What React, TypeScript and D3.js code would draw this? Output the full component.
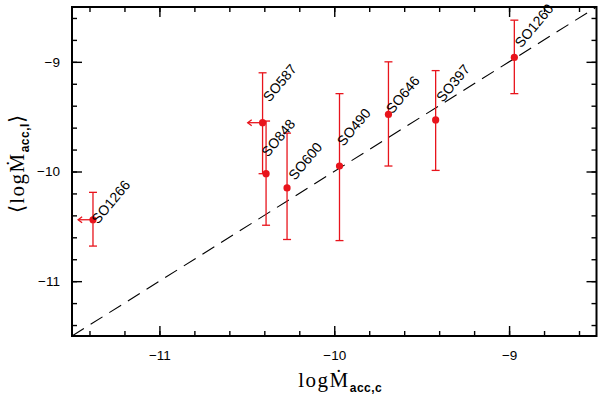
import React, { useEffect, useRef } from "react";
import * as d3 from "d3";

// source names and accretion rates (log Msun/yr)
const names = ["SO1266", "SO587", "SO848", "SO600", "SO490", "SO646", "SO397", "SO1260"];
const logMc = [-11.38, -10.41, -10.39, -10.27, -9.97, -9.69, -9.42, -8.97];
const logMl = [-10.44, -9.555, -10.02, -10.15, -9.95, -9.48, -9.53, -8.96];
const errTop = [-10.19, -9.1, -9.54, -9.65, -9.29, -9.0, -9.08, -8.62];
const errBottom = [-10.68, -10.02, -10.49, -10.62, -10.63, -9.95, -9.99, -9.29];
const upperLimit = [true, true, false, false, false, false, false, false];
const majorTicks = [-11, -10, -9];

const App = () => {
  const svgRef = useRef<SVGSVGElement>(null);

  useEffect(() => {
    const W = 600;
    const H = 395;
    const margin = { top: 7, right: 3.5, bottom: 59, left: 72 };
    const width = W - margin.left - margin.right;
    const height = H - margin.top - margin.bottom;

    const root = d3.select(svgRef.current);
    root.selectAll("*").remove();
    const svg = root.append("g").attr("transform", `translate(${margin.left},${margin.top})`);

    const x = d3.scaleLinear().domain([-11.5, -8.5]).range([0, width]);
    const y = d3.scaleLinear().domain([-11.5, -8.5]).range([height, 0]);
    const minor = d3.range(-11.4, -8.5, 0.2).map((v) => +v.toFixed(1));

    // ticks on all four sides, pointing inwards
    const tickFont = "'Liberation Sans', Arial, sans-serif";
    const addAxis = (axis: any, tf: string, labels: boolean) => {
      const g = svg.append("g").attr("transform", tf).call(axis);
      g.select(".domain").remove();
      g.selectAll("line").attr("stroke", "#000").attr("stroke-width", 1.4);
      g.selectAll("text").style("font-family", tickFont).style("font-size", "13.5px").attr("fill", "#000");
      if (!labels) g.selectAll("text").remove();
      return g;
    };
    addAxis(d3.axisBottom(x).tickValues(minor).tickSize(-5).tickFormat(() => ""), `translate(0,${height})`, false);
    addAxis(d3.axisBottom(x).tickValues(majorTicks).tickSize(-10).tickPadding(14).tickFormat(d3.format("d")), `translate(0,${height})`, true);
    addAxis(d3.axisTop(x).tickValues(minor).tickSize(-5), "translate(0,0)", false);
    addAxis(d3.axisTop(x).tickValues(majorTicks).tickSize(-10), "translate(0,0)", false);
    addAxis(d3.axisLeft(y).tickValues(minor).tickSize(-5).tickFormat(() => ""), "translate(0,0)", false);
    addAxis(d3.axisLeft(y).tickValues(majorTicks).tickSize(-10).tickPadding(12).tickFormat(d3.format("d")), "translate(0,0)", true);
    addAxis(d3.axisRight(y).tickValues(minor).tickSize(-5), `translate(${width},0)`, false);
    addAxis(d3.axisRight(y).tickValues(majorTicks).tickSize(-10), `translate(${width},0)`, false);

    // frame
    svg.append("rect").attr("width", width).attr("height", height)
      .attr("fill", "none").attr("stroke", "#000").attr("stroke-width", 2);

    // one-to-one line
    svg.append("line")
      .attr("x1", x(-11.5)).attr("y1", y(-11.5)).attr("x2", x(-8.5)).attr("y2", y(-8.5))
      .attr("stroke", "#000").attr("stroke-width", 1.1).attr("stroke-dasharray", "14,8");

    const red = "#e8141c";
    const data = names.map((n, i) => ({
      name: n, xc: logMc[i], yl: logMl[i], top: errTop[i], bot: errBottom[i], lim: upperLimit[i],
    }));

    // vertical error bars with caps
    const eb = svg.append("g").attr("stroke", red).attr("stroke-width", 1.3);
    data.forEach((d) => {
      eb.append("line").attr("x1", x(d.xc)).attr("x2", x(d.xc)).attr("y1", y(d.top)).attr("y2", y(d.bot));
      [d.top, d.bot].forEach((v) => {
        eb.append("line").attr("x1", x(d.xc) - 4).attr("x2", x(d.xc) + 4).attr("y1", y(v)).attr("y2", y(v));
      });
      if (d.lim) {
        const xa = x(d.xc - 0.085);
        eb.append("line").attr("x1", x(d.xc)).attr("x2", xa).attr("y1", y(d.yl)).attr("y2", y(d.yl));
        eb.append("path").attr("fill", "none")
          .attr("d", `M${xa + 4},${y(d.yl) - 3}L${xa},${y(d.yl)}L${xa + 4},${y(d.yl) + 3}`);
      }
    });

    svg.append("g").selectAll("circle").data(data).enter().append("circle")
      .attr("cx", (d) => x(d.xc)).attr("cy", (d) => y(d.yl)).attr("r", 3.6).attr("fill", red);

    // rotated source labels (pixel nudges from each point)
    const labelNudge = [[5, 5], [7, -20], [2, -16], [8, -7], [4, -19], [4, 0], [7, -17], [7, -9]];
    svg.append("g").selectAll("text").data(data).enter().append("text")
      .attr("transform", (d, i) => `translate(${x(d.xc) + labelNudge[i][0]},${y(d.yl) + labelNudge[i][1]}) rotate(-50)`)
      .style("font-family", tickFont).style("font-size", "14px").text((d) => d.name);

    // axis titles
    const serif = "'Liberation Serif', 'Times New Roman', serif";
    const xl = root.append("text").attr("x", margin.left + x(-10) - 36).attr("y", 387)
      .style("font-family", serif).style("font-size", "21px").style("letter-spacing", "1.5px");
    xl.append("tspan").text("log\u1E40");
    xl.append("tspan").attr("dy", 5).style("font-family", tickFont).style("font-size", "12px")
      .style("font-weight", "bold").style("letter-spacing", "0.5px").text("acc,c");

    const yl = root.append("text").attr("transform", `translate(24,${margin.top + y(-10) - 8}) rotate(-90)`)
      .attr("text-anchor", "middle")
      .style("font-family", serif).style("font-size", "21px").style("letter-spacing", "1.5px");
    yl.append("tspan").text("\u27E8log\u1E40");
    yl.append("tspan").attr("dy", 5).style("font-family", tickFont).style("font-size", "12px")
      .style("font-weight", "bold").style("letter-spacing", "0.5px").text("acc,l");
    yl.append("tspan").attr("dy", -5).text("\u27E9");
  }, []);

  return (
    <svg ref={svgRef} width={600} height={395}
      style={{ position: "absolute", left: 0, top: 0, background: "#fff" }} />
  );
};

export default App;
